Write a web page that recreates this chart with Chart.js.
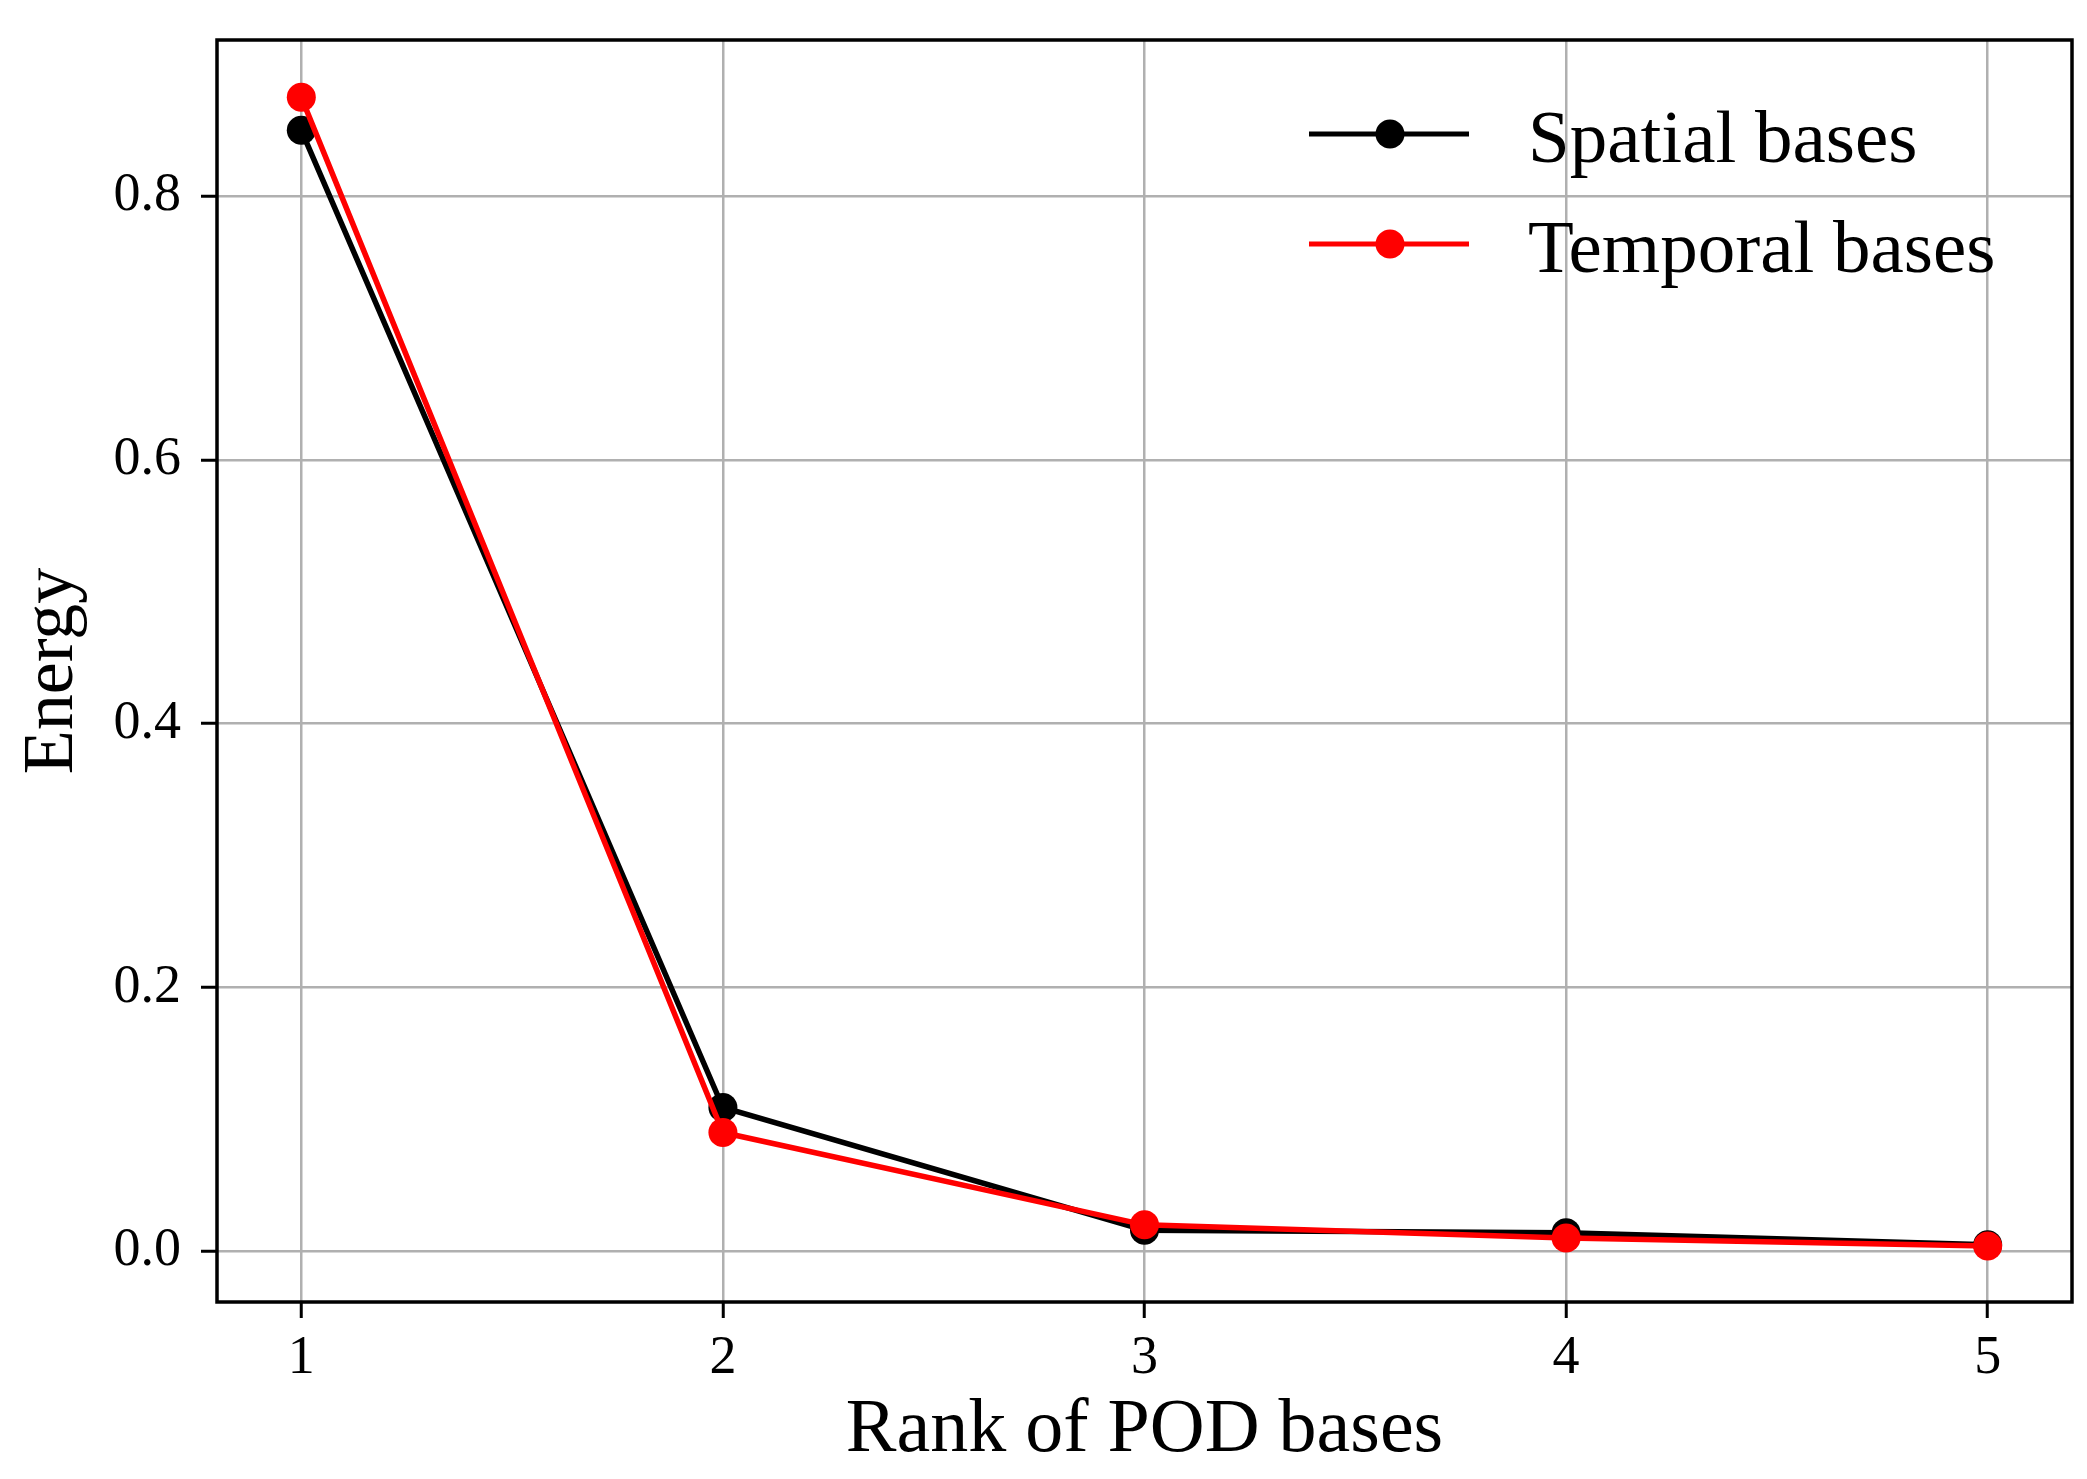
<!DOCTYPE html>
<html>
<head>
<meta charset="utf-8">
<script src="https://cdn.jsdelivr.net/npm/chart.js@4.4.1/dist/chart.umd.min.js"></script>
<style>
html, body { margin: 0; padding: 0; background: #fff; }
#wrap { width: 2087px; height: 1479px; }
</style>
</head>
<body>
<div id="wrap"><canvas id="myChartEnergy" width="2087" height="1479"></canvas></div>
<script>
var ranks = [1, 2, 3, 4, 5];
var spatialEnergy = [0.850, 0.109, 0.016, 0.014, 0.005];
var temporalEnergy = [0.875, 0.090, 0.020, 0.010, 0.004];
var xTicks = [1, 2, 3, 4, 5];
var yTicks = [0.0, 0.2, 0.4, 0.6, 0.8];

var serif = "'Liberation Serif', 'Times New Roman', serif";

function toPoints(values) {
    return ranks.map(function (r, i) { return { x: r, y: values[i] }; });
}

// leyenda dentro del area del grafico (arriba a la derecha)
var legendInside = {
    id: 'legendInside',
    afterDraw: function (chart) {
        var ctx = chart.ctx;
        var area = chart.chartArea;
        var x0 = area.right - 763;
        var rows = [area.top + 94, area.top + 204];
        ctx.save();
        chart.data.datasets.forEach(function (ds, i) {
            var y = rows[i];
            ctx.strokeStyle = ds.borderColor;
            ctx.lineWidth = 5;
            ctx.beginPath();
            ctx.moveTo(x0, y);
            ctx.lineTo(x0 + 160, y);
            ctx.stroke();
            ctx.fillStyle = ds.backgroundColor;
            ctx.beginPath();
            ctx.arc(x0 + 81, y, 14.5, 0, Math.PI * 2);
            ctx.fill();
            ctx.fillStyle = '#000';
            ctx.font = '75px ' + serif;
            ctx.textAlign = 'left';
            ctx.textBaseline = 'alphabetic';
            ctx.fillText(ds.label, x0 + 219, y + 28);
        });
        ctx.restore();
    }
};

// marco negro alrededor del area
var frame = {
    id: 'frame',
    afterDatasetsDraw: function (chart) {
        var a = chart.chartArea;
        var ctx = chart.ctx;
        ctx.save();
        ctx.strokeStyle = '#000';
        ctx.lineWidth = 3.5;
        ctx.strokeRect(a.left, a.top, a.right - a.left, a.bottom - a.top);
        ctx.restore();
    }
};

var ctx = document.getElementById('myChartEnergy').getContext('2d');
var mychart = new Chart(ctx, {
    type: 'line',
    data: {
        datasets: [{
            label: 'Spatial bases',
            data: toPoints(spatialEnergy),
            borderColor: '#000000',
            backgroundColor: '#000000',
            borderWidth: 5.5,
            pointRadius: 14.5,
            pointBorderWidth: 0,
            order: 1
        }, {
            label: 'Temporal bases',
            data: toPoints(temporalEnergy),
            borderColor: '#ff0000',
            backgroundColor: '#ff0000',
            borderWidth: 5.5,
            pointRadius: 14.5,
            pointBorderWidth: 0,
            order: 0
        }]
    },
    options: {
        responsive: false,
        devicePixelRatio: 1,
        animation: false,
        layout: { padding: { top: 40, right: 15, left: 0, bottom: 0 } },
        plugins: {
            legend: { display: false },
            tooltip: { enabled: false }
        },
        scales: {
            x: {
                type: 'linear',
                min: 0.8,
                max: 5.2,
                afterBuildTicks: function (axis) {
                    axis.ticks = xTicks.map(function (v) { return { value: v }; });
                },
                afterFit: function (axis) {
                    axis.height = 177;
                    axis.paddingLeft = 0;
                    axis.paddingRight = 0;
                },
                border: { display: false },
                grid: { color: '#b0b0b0', lineWidth: 2.5, tickColor: '#000', tickLength: 16, tickWidth: 3 },
                ticks: {
                    color: '#000',
                    padding: 8,
                    font: { family: serif, size: 54 },
                    callback: function (v) { return String(v); }
                },
                title: {
                    display: true,
                    text: 'Rank of POD bases',
                    color: '#000',
                    font: { family: serif, size: 76 },
                    padding: { top: 0, bottom: 2 }
                }
            },
            y: {
                type: 'linear',
                min: -0.0385,
                max: 0.9185,
                afterBuildTicks: function (axis) {
                    axis.ticks = yTicks.map(function (v) { return { value: v }; });
                },
                afterFit: function (axis) {
                    axis.width = 217;
                    axis.paddingTop = 0;
                    axis.paddingBottom = 0;
                },
                border: { display: false },
                grid: { color: '#b0b0b0', lineWidth: 2.5, tickColor: '#000', tickLength: 16, tickWidth: 3 },
                ticks: {
                    color: '#000',
                    padding: 20,
                    font: { family: serif, size: 54 },
                    callback: function (v) { return v.toFixed(1); }
                },
                title: {
                    display: true,
                    text: 'Energy',
                    color: '#000',
                    font: { family: serif, size: 72 },
                    padding: { top: 10, bottom: 0 }
                }
            }
        }
    },
    plugins: [frame, legendInside]
});
</script>
</body>
</html>
